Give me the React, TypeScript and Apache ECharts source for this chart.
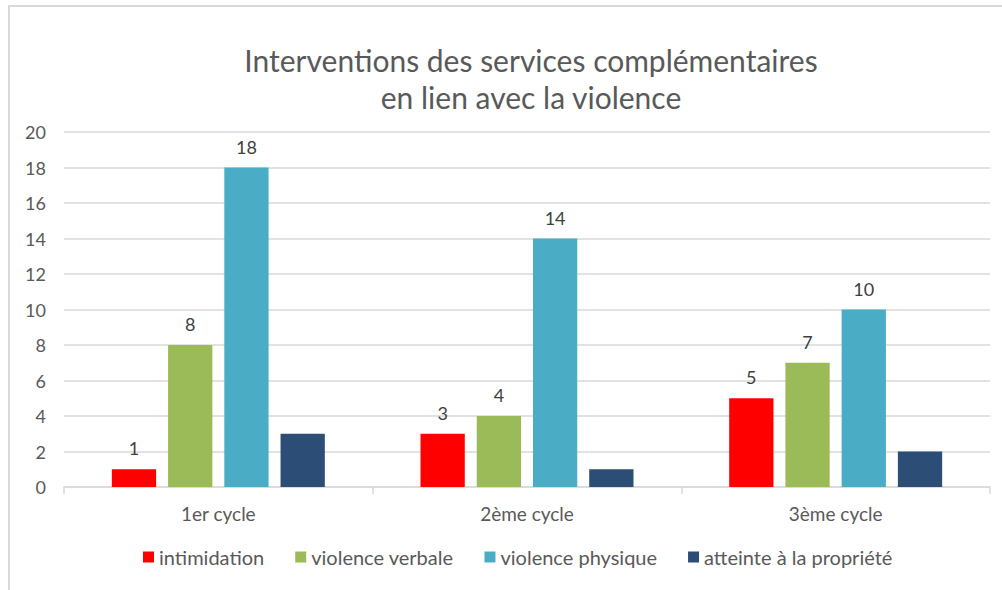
import React, { useEffect, useRef } from "react";
import * as echarts from "echarts";

const categories = ["1er cycle", "2ème cycle", "3ème cycle"];
const seriesNames = ["intimidation", "violence verbale", "violence physique", "atteinte à la propriété"];
const intimidation = [1, 3, 5];
const violenceVerbale = [8, 4, 7];
const violencePhysique = [18, 14, 10];
const atteintePropriete = [3, 1, 2];
const showLabels = [true, true, true, false];
const yTicks = [0, 2, 4, 6, 8, 10, 12, 14, 16, 18, 20];
const colors = ["#FF0000", "#9BBB59", "#4BACC6", "#2C4D75"];

const FONT = "Lato";

export default function App() {
  const ref = useRef<HTMLDivElement>(null);
  useEffect(() => {
    if (!ref.current) return;
    const chart = echarts.init(ref.current, undefined, { renderer: "svg" });
    const data = [intimidation, violenceVerbale, violencePhysique, atteintePropriete];
    chart.setOption({
      animation: false,
      backgroundColor: "#ffffff",
      textStyle: { fontFamily: FONT },
      title: {
        text: "Interventions des services complémentaires\nen lien avec la violence",
        left: 526,
        textAlign: "center",
        top: 36,
        textStyle: {
          fontFamily: FONT,
          fontSize: 30,
          fontWeight: "normal",
          color: "#595959",
          lineHeight: 37,
        },
      },
      graphic: [
        {
          type: "rect",
          shape: { x: 9, y: 6, width: 1010, height: 620 },
          style: { fill: "none", stroke: "#d9d9d9", lineWidth: 2 },
          silent: true,
        },
      ],
      legend: {
        data: seriesNames,
        bottom: 18,
        left: 138,
        itemWidth: 11,
        itemHeight: 11,
        itemGap: 31,
        icon: "rect",
        textStyle: { fontFamily: FONT, fontSize: 20, color: "#595959" },
      },
      grid: { left: 64, right: 12, top: 132, bottom: 103, containLabel: false },
      xAxis: {
        type: "category",
        data: categories,
        axisLine: { lineStyle: { color: "#d9d9d9", width: 1.5 } },
        axisTick: { show: true, length: 7, lineStyle: { color: "#d9d9d9", width: 1.5 } },
        axisLabel: { fontFamily: FONT, fontSize: 19, color: "#595959", margin: 17 },
      },
      yAxis: {
        type: "value",
        min: yTicks[0],
        max: yTicks[yTicks.length - 1],
        interval: 2,
        axisLine: { show: false },
        axisTick: { show: false },
        splitLine: { lineStyle: { color: "#d9d9d9", width: 1.5 } },
        axisLabel: { fontFamily: FONT, fontSize: 18, color: "#595959", margin: 18 },
      },
      series: seriesNames.map((name, i) => ({
        name,
        type: "bar",
        data: data[i],
        barGap: "27%",
        barCategoryGap: "31%",
        itemStyle: { color: colors[i] },
        label: {
          show: showLabels[i],
          position: "top",
          distance: 12,
          fontFamily: FONT,
          fontSize: 18,
          color: "#404040",
        },
      })),
    });
    return () => chart.dispose();
  }, []);
  return (
    <div
      ref={ref}
      style={{ position: "fixed", left: 0, top: 0, width: 1002, height: 590 }}
    />
  );
}
